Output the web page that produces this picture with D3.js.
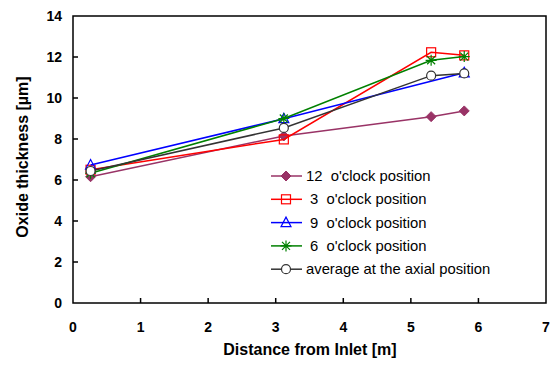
<!DOCTYPE html>
<html lang="en">
    <head>
        <meta charset="utf-8">
        <title>Oxide thickness</title>
        <script type="text/javascript" src="https://d3js.org/d3.v7.min.js"></script>
        <style type="text/css">
            body {
                margin: 0;
                background-color: #ffffff;
            }
            svg {
                display: block;
                font-family: "Liberation Sans", Arial, Helvetica, sans-serif;
            }
            .tick-label {
                font-size: 14px;
                font-weight: bold;
            }
            .axis-title {
                font-size: 16px;
                font-weight: bold;
            }
            .legend text {
                font-size: 14.8px;
            }
        </style>
    </head>
    <body>
        <svg width="556" height="369"></svg>
        <script type="text/javascript">

            // data
            const seriesNames = ["12  o'clock position", " 3  o'clock position", " 9  o'clock position", " 6  o'clock position", "average at the axial position"];
            const distX = [0.26, 3.12, 5.30, 5.79];
            const distX9 = [0.26, 3.12, 5.79];
            const clock12 = [6.16, 8.15, 9.09, 9.37];
            const clock3 = [6.5, 7.98, 12.23, 12.08];
            const clock9 = [6.73, 8.99, 11.23];
            const clock6 = [6.33, 9.0, 11.84, 12.02];
            const average = [6.44, 8.54, 11.09, 11.2];
            const xTicks = [0, 1, 2, 3, 4, 5, 6, 7];
            const yTicks = [0, 2, 4, 6, 8, 10, 12, 14];

            const series = [
                {name: seriesNames[0], xs: distX, ys: clock12, color: "#993366", marker: "diamond"},
                {name: seriesNames[1], xs: distX, ys: clock3, color: "#ff0000", marker: "square"},
                {name: seriesNames[2], xs: distX9, ys: clock9, color: "#0000ff", marker: "triangle"},
                {name: seriesNames[3], xs: distX, ys: clock6, color: "#008000", marker: "star"},
                {name: seriesNames[4], xs: distX, ys: average, color: "#333333", marker: "circle"}
            ];

            const svg = d3.select("svg");
            const plotLeft = 73, plotRight = 546, plotTop = 16, plotBottom = 303;

            const x = d3.scaleLinear().domain([0, 7]).range([plotLeft, plotRight]);
            const y = d3.scaleLinear().domain([0, 14]).range([plotBottom, plotTop]);

            // frame
            svg.append("rect")
                .attr("x", plotLeft).attr("y", plotTop)
                .attr("width", plotRight - plotLeft).attr("height", plotBottom - plotTop)
                .attr("fill", "none").attr("stroke", "#000").attr("stroke-width", 1.5);

            // ticks pointing inwards
            svg.selectAll("line.xt").data(xTicks.slice(1, -1)).enter()
                .append("line").attr("class", "xt")
                .attr("x1", d => x(d)).attr("x2", d => x(d))
                .attr("y1", plotBottom).attr("y2", plotBottom - 5)
                .attr("stroke", "#000").attr("stroke-width", 1.5);
            svg.selectAll("line.yt").data(yTicks.slice(1, -1)).enter()
                .append("line").attr("class", "yt")
                .attr("x1", plotLeft).attr("x2", plotLeft + 5)
                .attr("y1", d => y(d)).attr("y2", d => y(d))
                .attr("stroke", "#000").attr("stroke-width", 1.5);

            svg.selectAll("text.xl").data(xTicks).enter()
                .append("text").attr("class", "tick-label")
                .attr("x", d => x(d)).attr("y", 332)
                .attr("text-anchor", "middle")
                .text(d => d);
            svg.selectAll("text.yl").data(yTicks).enter()
                .append("text").attr("class", "tick-label")
                .attr("x", 62).attr("y", d => y(d) + 5)
                .attr("text-anchor", "end")
                .text(d => d);

            svg.append("text").attr("class", "axis-title")
                .attr("x", 310).attr("y", 355)
                .attr("text-anchor", "middle")
                .text("Distance from Inlet [m]");
            svg.append("text").attr("class", "axis-title")
                .attr("transform", "translate(28," + 157 + ") rotate(-90)")
                .attr("text-anchor", "middle")
                .text("Oxide thickness [µm]");

            // marker drawing
            function drawMarker(g, kind, color) {
                if (kind === "diamond") {
                    g.append("path").attr("d", "M0,-5L5,0L0,5L-5,0Z").attr("fill", color).attr("stroke", color);
                } else if (kind === "square") {
                    g.append("rect").attr("x", -4.5).attr("y", -4.5).attr("width", 9).attr("height", 9)
                        .attr("fill", "none").attr("stroke", color).attr("stroke-width", 1.2);
                } else if (kind === "triangle") {
                    g.append("path").attr("d", "M0,-5.5L5,4L-5,4Z")
                        .attr("fill", "none").attr("stroke", color).attr("stroke-width", 1.2);
                } else if (kind === "star") {
                    g.append("path").attr("d", "M-5.5,0L5.5,0M-4,-4L4,4M-4,4L4,-4M0,-5.5L0,5.5")
                        .attr("stroke", color).attr("stroke-width", 1.2);
                } else if (kind === "circle") {
                    g.append("circle").attr("r", 4.5)
                        .attr("fill", "#fff").attr("stroke", color).attr("stroke-width", 1.2);
                }
            }

            const line = d3.line().x(d => x(d[0])).y(d => y(d[1]));

            series.forEach(function (s) {
                const pts = s.xs.map((v, i) => [v, s.ys[i]]);
                svg.append("path")
                    .attr("d", line(pts))
                    .attr("fill", "none")
                    .attr("stroke", s.color)
                    .attr("stroke-width", 1.5);
                pts.forEach(function (p) {
                    const g = svg.append("g").attr("transform", "translate(" + x(p[0]) + "," + y(p[1]) + ")");
                    drawMarker(g, s.marker, s.color);
                });
            });

            // legend
            const legend = svg.append("g").attr("class", "legend");
            series.forEach(function (s, i) {
                const ly = 176 + i * 23.3;
                legend.append("line")
                    .attr("x1", 271).attr("x2", 302)
                    .attr("y1", ly).attr("y2", ly)
                    .attr("stroke", s.color).attr("stroke-width", 1.5);
                const g = legend.append("g").attr("transform", "translate(286," + ly + ")");
                drawMarker(g, s.marker, s.color);
                legend.append("text")
                    .attr("x", 306).attr("y", ly + 5)
                    .attr("xml:space", "preserve")
                    .style("white-space", "pre")
                    .text(s.name);
            });
        </script>
    </body>
</html>
